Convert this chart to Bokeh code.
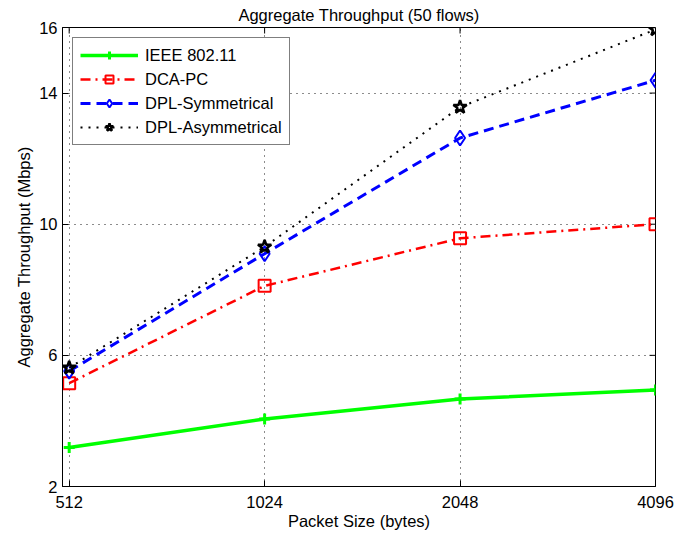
import math
from bokeh.plotting import figure
from bokeh.models import Range1d, FixedTicker, Legend, LegendItem
from bokeh.embed import file_html
from bokeh.resources import INLINE

packet_sizes = [512, 1024, 2048, 4096]
ieee_80211 = [3.19, 4.06, 4.67, 4.94]
dca_pc = [5.15, 8.12, 9.57, 10.0]
dpl_sym = [5.52, 9.1, 12.63, 14.39]
dpl_asym = [5.62, 9.31, 13.57, 15.94]
x_ticks = [512, 1024, 2048, 4096]
y_ticks = [2, 6, 10, 14, 16]

FONT = "Liberation Sans"
FS = "16.5px"
X_MIN, X_MAX, Y_MIN, Y_MAX = 500, 4096, 2, 16

p = figure(width=675, height=537, x_axis_type="log",
           x_range=Range1d(X_MIN, X_MAX), y_range=Range1d(Y_MIN, Y_MAX),
           output_backend="svg", toolbar_location=None,
           min_border_left=62, min_border_right=20, min_border_top=27,
           min_border_bottom=51, title="Aggregate Throughput (50 flows)")

p.title.text_font = FONT
p.title.text_font_size = FS
p.title.text_font_style = "normal"
p.title.text_color = "black"
p.title.align = "center"
p.title.vertical_align = "top"
p.title.offset = 0
p.title.standoff = 3

p.outline_line_color = "black"
p.outline_line_width = 1
p.background_fill_color = "white"
p.border_fill_color = "white"

for ax in [p.xaxis[0], p.yaxis[0]]:
    ax.major_tick_in = 6
    ax.major_tick_out = 0
    ax.minor_tick_in = 0
    ax.minor_tick_out = 0
    ax.axis_line_color = "black"
    ax.major_tick_line_color = "black"
    ax.major_label_text_font = FONT
    ax.major_label_text_font_size = FS
    ax.major_label_text_color = "black"
    ax.axis_label_text_font = FONT
    ax.axis_label_text_font_size = FS
    ax.axis_label_text_font_style = "normal"
    ax.axis_label_text_color = "black"

p.xaxis[0].ticker = FixedTicker(ticks=x_ticks)
p.xaxis[0].major_label_overrides = {t: str(t) for t in x_ticks}
p.xaxis[0].axis_label = "Packet Size (bytes)"
p.xaxis[0].axis_label_standoff = 1
p.xaxis[0].major_label_standoff = 9
p.yaxis[0].ticker = FixedTicker(ticks=y_ticks)
p.yaxis[0].axis_label = "Aggregate Throughput (Mbps)"
p.yaxis[0].axis_label_standoff = 3
p.yaxis[0].major_label_standoff = 5

# inward ticks on the top and right edges of the box (MATLAB style)
tick_dy = (Y_MAX - Y_MIN) * 6 / 459
tick_dx = 2 ** (-math.log2(X_MAX / X_MIN) * 6 / 593)
p.segment(x0=x_ticks, y0=[Y_MAX] * len(x_ticks), x1=x_ticks,
          y1=[Y_MAX - tick_dy] * len(x_ticks), line_color="black", line_width=1)
p.segment(x0=[X_MAX] * len(y_ticks), y0=y_ticks, x1=[X_MAX * tick_dx] * len(y_ticks),
          y1=y_ticks, line_color="black", line_width=1)

p.grid.grid_line_color = "black"
p.grid.grid_line_dash = "1 5"
p.grid.grid_line_alpha = 0.9
p.xgrid.ticker = FixedTicker(ticks=x_ticks)
p.ygrid.ticker = FixedTicker(ticks=y_ticks)

l1 = p.line(packet_sizes, ieee_80211, line_color="#00ff00", line_width=3.5)
m1 = p.scatter(packet_sizes, ieee_80211, marker="cross", size=11, line_color="#00ff00", line_width=3)

l2 = p.line(packet_sizes, dca_pc, line_color="red", line_width=2.5, line_dash="10 5 2 5")
m2 = p.scatter(packet_sizes, dca_pc, marker="square", size=12, line_color="red", fill_color=None, line_width=2)

l3 = p.line(packet_sizes, dpl_sym, line_color="blue", line_width=3, line_dash="10 6")
m3 = p.scatter(packet_sizes, dpl_sym, marker="diamond", size=15, line_color="blue", fill_color=None, line_width=2)

l4 = p.line(packet_sizes, dpl_asym, line_color="black", line_width=2, line_dash="2 6")
m4 = p.scatter(packet_sizes, dpl_asym, marker="star", size=14, line_color="black", fill_color=None, line_width=2.5)

legend = Legend(items=[
    LegendItem(label="IEEE 802.11", renderers=[l1, m1]),
    LegendItem(label="DCA-PC", renderers=[l2, m2]),
    LegendItem(label="DPL-Symmetrical", renderers=[l3, m3]),
    LegendItem(label="DPL-Asymmetrical", renderers=[l4, m4]),
], location="top_left")
legend.margin = 10
legend.padding = 7
legend.spacing = 4
legend.glyph_width = 58
legend.glyph_height = 20
legend.label_standoff = 7
legend.label_text_font = FONT
legend.label_text_font_size = FS
legend.label_text_color = "black"
legend.border_line_color = "black"
legend.border_line_width = 1
legend.background_fill_color = "white"
legend.background_fill_alpha = 1
p.add_layout(legend, "center")

open("out.html", "w").write(file_html(p, INLINE))
